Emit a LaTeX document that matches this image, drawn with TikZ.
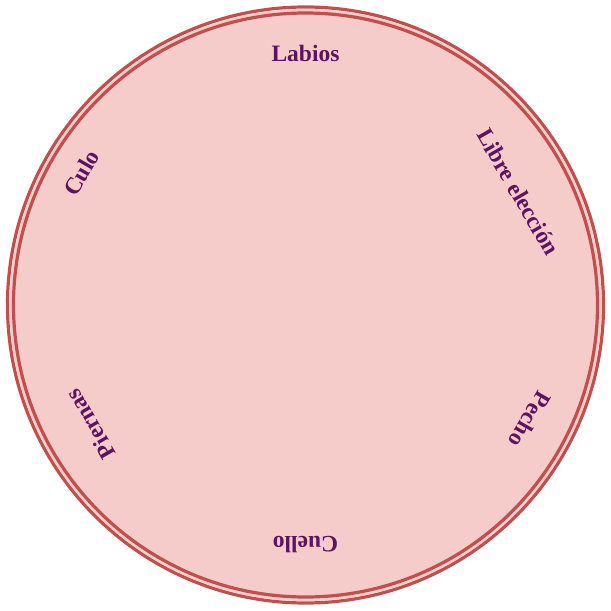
\documentclass[tikz,border=0pt]{standalone}
\usepackage{fontspec}
\setmainfont{Liberation Serif}
\definecolor{ringfill}{HTML}{F6CCCB}
\definecolor{ringline}{HTML}{C0504D}
\definecolor{labeltext}{HTML}{5E1360}
\begin{document}
\begin{tikzpicture}[x=1pt,y=1pt,
  lbl/.style={text=labeltext,font=\fontsize{23.5}{26}\selectfont\bfseries,inner sep=0pt}]
\useasboundingbox (-305.5,-306) rectangle (305.5,305);
\fill[ringfill] (0,0) circle (296);
\draw[ringline,line width=3.2pt] (0,0) circle (298);
\draw[ringline,line width=3.2pt] (0,0) circle (292);
\node[lbl,rotate=0] (labios) at (90:252) {Labios};
\node[lbl,rotate=-60] (libre) at (28:241) {Libre elección};
\node[lbl,rotate=-120] (pecho) at (-27:252) {Pecho};
\node[lbl,rotate=180] (cuello) at (-90:240) {Cuello};
\node[lbl,rotate=120] (piernas) at (209:246) {Piernas};
\node[lbl,rotate=60] (culo) at (149.5:260) {Culo};
\end{tikzpicture}
\end{document}
